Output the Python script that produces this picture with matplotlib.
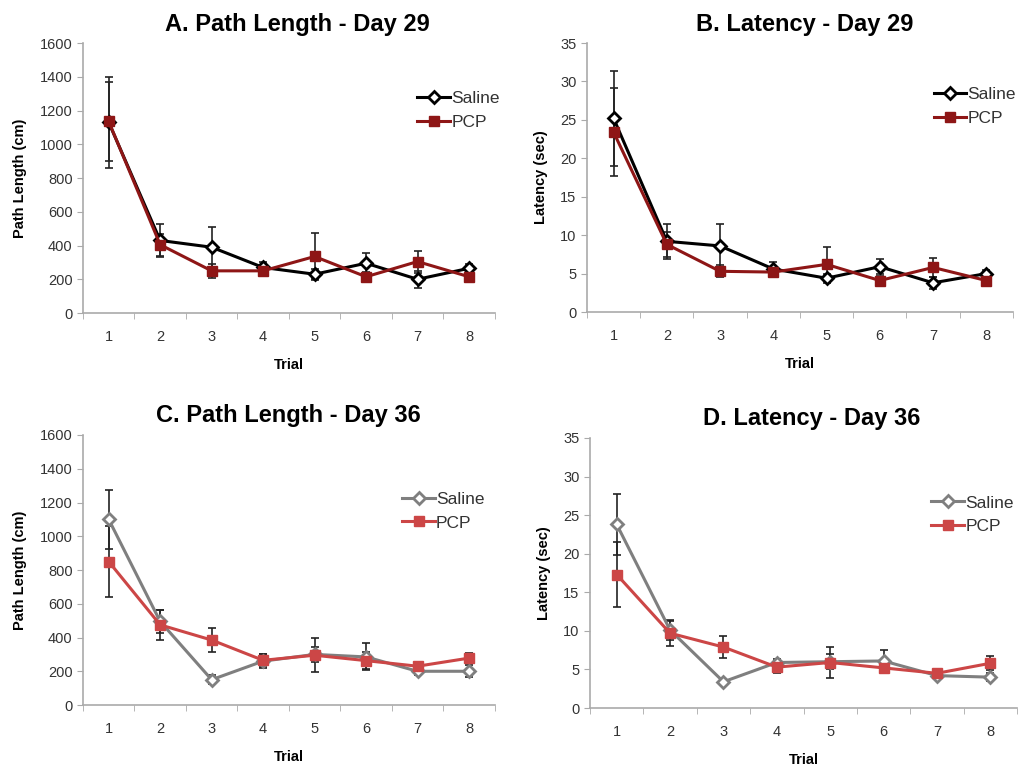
#!/usr/bin/env python3
"""Water maze path length and latency across trials, saline vs PCP, days 29 and 36."""
import matplotlib
matplotlib.use("Agg")
import matplotlib.pyplot as plt
from matplotlib.ticker import FixedLocator, NullFormatter

plt.rcParams['font.family'] = ['Liberation Sans', 'DejaVu Sans']

trials = [1, 2, 3, 4, 5, 6, 7, 8]

# A. Path length, day 29
path29_saline = [1130, 430, 390, 270, 230, 295, 200, 265]
path29_saline_err = [270, 100, 120, 35, 30, 60, 50, 25]
path29_pcp = [1135, 405, 250, 250, 335, 215, 305, 215]
path29_pcp_err = [235, 65, 40, 30, 140, 30, 65, 30]

# B. Latency, day 29
lat29_saline = [25.2, 9.2, 8.6, 5.6, 4.4, 5.9, 3.8, 5.0]
lat29_saline_err = [6.2, 2.3, 2.8, 0.9, 0.6, 1.0, 0.8, 0.5]
lat29_pcp = [23.4, 8.8, 5.3, 5.2, 6.2, 4.1, 5.8, 4.1]
lat29_pcp_err = [5.7, 1.6, 0.8, 0.7, 2.2, 0.6, 1.2, 0.5]

# C. Path length, day 36
path36_saline = [1100, 495, 150, 260, 300, 285, 200, 200]
path36_saline_err = [175, 70, 25, 40, 45, 80, 25, 35]
path36_pcp = [850, 475, 385, 265, 295, 263, 230, 278]
path36_pcp_err = [210, 90, 70, 40, 100, 50, 25, 30]

# D. Latency, day 36
lat36_saline = [23.8, 10.1, 3.4, 5.9, 6.0, 6.1, 4.2, 4.0]
lat36_saline_err = [4.0, 1.3, 0.4, 0.5, 1.0, 1.4, 0.4, 0.5]
lat36_pcp = [17.3, 9.7, 7.9, 5.3, 5.9, 5.2, 4.5, 5.8]
lat36_pcp_err = [4.2, 1.6, 1.4, 0.8, 2.0, 0.7, 0.4, 0.9]

# title, ylabel, ymax, ystep, data..., colours, axes rect, legend corner, title x
panels = [
    ("A. Path Length - Day 29", "Path Length (cm)", 1600, 200,
     path29_saline, path29_saline_err, path29_pcp, path29_pcp_err,
     "black", "#8e1616", [0.0815, 0.5924, 0.4045, 0.3516], (0.410, 0.882), 0.52),
    ("B. Latency - Day 29", "Latency (sec)", 35, 5,
     lat29_saline, lat29_saline_err, lat29_pcp, lat29_pcp_err,
     "black", "#8e1616", [0.5766, 0.5937, 0.4184, 0.3503], (0.917, 0.887), 0.512),
    ("C. Path Length - Day 36", "Path Length (cm)", 1600, 200,
     path36_saline, path36_saline_err, path36_pcp, path36_pcp_err,
     "#7f7f7f", "#cc4646", [0.0815, 0.0820, 0.4045, 0.3516], (0.395, 0.360), 0.5),
    ("D. Latency - Day 36", "Latency (sec)", 35, 5,
     lat36_saline, lat36_saline_err, lat36_pcp, lat36_pcp_err,
     "#7f7f7f", "#cc4646", [0.5796, 0.0781, 0.4194, 0.3516], (0.915, 0.355), 0.519),
]

fig = plt.figure(figsize=(10.18, 7.68), dpi=100)

for (title, ylabel, ymax, ystep, sal, sal_err, pcp, pcp_err,
     sal_color, pcp_color, rect, leg_pos, title_x) in panels:
    ax = fig.add_axes(rect)
    ax.errorbar(trials, sal, yerr=sal_err, fmt="none", ecolor="#222222",
                elinewidth=1.2, capsize=3, capthick=1.2, zorder=2)
    ax.errorbar(trials, pcp, yerr=pcp_err, fmt="none", ecolor="#222222",
                elinewidth=1.2, capsize=3, capthick=1.2, zorder=2)
    ax.plot(trials, sal, color=sal_color, lw=2.2, marker="D",
            markersize=6, markerfacecolor="white",
            markeredgecolor=sal_color, markeredgewidth=2,
            label="Saline", zorder=3)
    ax.plot(trials, pcp, color=pcp_color, lw=2.2, marker="s",
            markersize=7.5, markerfacecolor=pcp_color,
            markeredgecolor=pcp_color, label="PCP", zorder=4)

    ax.set_xlim(0.5, 8.5)
    ax.set_ylim(0, ymax)
    ax.set_yticks(range(0, ymax + 1, ystep))
    ax.set_xticks(trials)
    ax.xaxis.set_minor_locator(FixedLocator([t + 0.5 for t in [0] + trials]))
    ax.xaxis.set_minor_formatter(NullFormatter())
    ax.tick_params(axis="x", which="major", length=0, pad=12,
                   labelsize=10.5, labelcolor="#333333")
    ax.tick_params(axis="x", which="minor", length=4, direction="out",
                   color="#aaaaaa")
    ax.tick_params(axis="y", length=4, color="#aaaaaa", labelsize=10.5,
                   labelcolor="#333333")
    for side in ("top", "right"):
        ax.spines[side].set_visible(False)
    for side in ("left", "bottom"):
        ax.spines[side].set_color("#aaaaaa")
        ax.spines[side].set_linewidth(1.2)

    ax.set_title(title, fontsize=17, fontweight="bold", pad=9, x=title_x)
    ax.set_ylabel(ylabel, fontsize=10.5, fontweight="bold", labelpad=9)
    ax.set_xlabel("Trial", fontsize=10.5, fontweight="bold", labelpad=10)
    ax.legend(loc="upper left", bbox_to_anchor=leg_pos,
              bbox_transform=fig.transFigure, frameon=False,
              fontsize=12.5, handlelength=1.9, handletextpad=0.05,
              labelspacing=0.5, borderaxespad=0, borderpad=0,
              labelcolor="#333333")

fig.savefig("out.png", dpi=100)
